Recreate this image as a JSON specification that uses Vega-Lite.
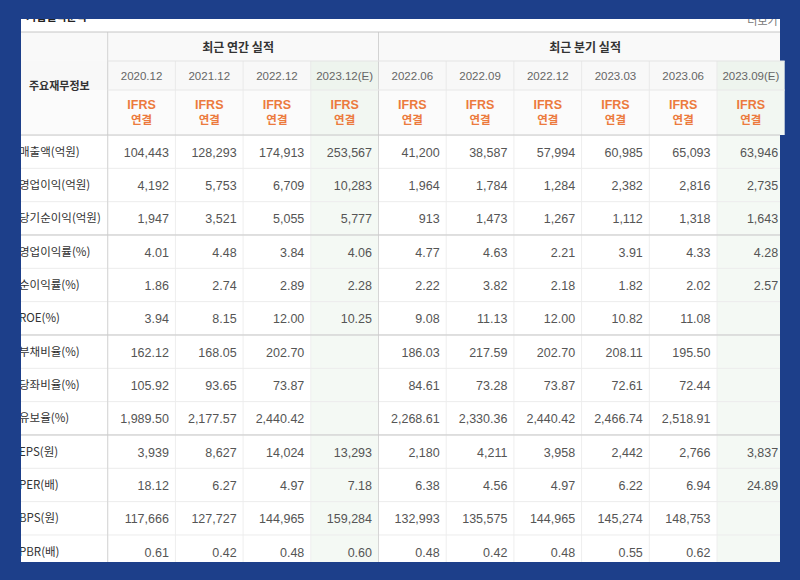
{
  "$schema": "https://vega.github.io/schema/vega-lite/v6.json",
  "background": "#1d3f8a",
  "padding": {"left": 20, "top": 19, "right": 21, "bottom": 18},
  "spacing": 0,
  "bounds": "flush",
  "config": {"view": {"stroke": null, "fill": "#ffffff"}, "text": {"font": "Noto Sans CJK KR"}},
  "resolve": {"scale": {"x": "shared"}},
  "datasets": {
    "one": [{}],
    "cols": [
      {"col": "연간 2020.12", "date": "2020.12", "group": "최근 연간 실적", "est": "실적", "std": "IFRS", "scope": "연결"},
      {"col": "연간 2021.12", "date": "2021.12", "group": "최근 연간 실적", "est": "실적", "std": "IFRS", "scope": "연결"},
      {"col": "연간 2022.12", "date": "2022.12", "group": "최근 연간 실적", "est": "실적", "std": "IFRS", "scope": "연결"},
      {"col": "연간 2023.12", "date": "2023.12(E)", "group": "최근 연간 실적", "est": "추정", "std": "IFRS", "scope": "연결"},
      {"col": "분기 2022.06", "date": "2022.06", "group": "최근 분기 실적", "est": "실적", "std": "IFRS", "scope": "연결"},
      {"col": "분기 2022.09", "date": "2022.09", "group": "최근 분기 실적", "est": "실적", "std": "IFRS", "scope": "연결"},
      {"col": "분기 2022.12", "date": "2022.12", "group": "최근 분기 실적", "est": "실적", "std": "IFRS", "scope": "연결"},
      {"col": "분기 2023.03", "date": "2023.03", "group": "최근 분기 실적", "est": "실적", "std": "IFRS", "scope": "연결"},
      {"col": "분기 2023.06", "date": "2023.06", "group": "최근 분기 실적", "est": "실적", "std": "IFRS", "scope": "연결"},
      {"col": "분기 2023.09", "date": "2023.09(E)", "group": "최근 분기 실적", "est": "추정", "std": "IFRS", "scope": "연결"}
    ],
    "metrics": [
      {"metric": "매출액(억원)"}, {"metric": "영업이익(억원)"}, {"metric": "당기순이익(억원)"},
      {"metric": "영업이익률(%)"}, {"metric": "순이익률(%)"}, {"metric": "ROE(%)"},
      {"metric": "부채비율(%)"}, {"metric": "당좌비율(%)"}, {"metric": "유보율(%)"},
      {"metric": "EPS(원)"}, {"metric": "PER(배)"}, {"metric": "BPS(원)"}, {"metric": "PBR(배)"}
    ],
    "fin": [
      {"metric": "매출액(억원)", "col": "연간 2020.12", "value": 104443},
      {"metric": "매출액(억원)", "col": "연간 2021.12", "value": 128293},
      {"metric": "매출액(억원)", "col": "연간 2022.12", "value": 174913},
      {"metric": "매출액(억원)", "col": "연간 2023.12", "value": 253567},
      {"metric": "매출액(억원)", "col": "분기 2022.06", "value": 41200},
      {"metric": "매출액(억원)", "col": "분기 2022.09", "value": 38587},
      {"metric": "매출액(억원)", "col": "분기 2022.12", "value": 57994},
      {"metric": "매출액(억원)", "col": "분기 2023.03", "value": 60985},
      {"metric": "매출액(억원)", "col": "분기 2023.06", "value": 65093},
      {"metric": "매출액(억원)", "col": "분기 2023.09", "value": 63946},
      {"metric": "영업이익(억원)", "col": "연간 2020.12", "value": 4192},
      {"metric": "영업이익(억원)", "col": "연간 2021.12", "value": 5753},
      {"metric": "영업이익(억원)", "col": "연간 2022.12", "value": 6709},
      {"metric": "영업이익(억원)", "col": "연간 2023.12", "value": 10283},
      {"metric": "영업이익(억원)", "col": "분기 2022.06", "value": 1964},
      {"metric": "영업이익(억원)", "col": "분기 2022.09", "value": 1784},
      {"metric": "영업이익(억원)", "col": "분기 2022.12", "value": 1284},
      {"metric": "영업이익(억원)", "col": "분기 2023.03", "value": 2382},
      {"metric": "영업이익(억원)", "col": "분기 2023.06", "value": 2816},
      {"metric": "영업이익(억원)", "col": "분기 2023.09", "value": 2735},
      {"metric": "당기순이익(억원)", "col": "연간 2020.12", "value": 1947},
      {"metric": "당기순이익(억원)", "col": "연간 2021.12", "value": 3521},
      {"metric": "당기순이익(억원)", "col": "연간 2022.12", "value": 5055},
      {"metric": "당기순이익(억원)", "col": "연간 2023.12", "value": 5777},
      {"metric": "당기순이익(억원)", "col": "분기 2022.06", "value": 913},
      {"metric": "당기순이익(억원)", "col": "분기 2022.09", "value": 1473},
      {"metric": "당기순이익(억원)", "col": "분기 2022.12", "value": 1267},
      {"metric": "당기순이익(억원)", "col": "분기 2023.03", "value": 1112},
      {"metric": "당기순이익(억원)", "col": "분기 2023.06", "value": 1318},
      {"metric": "당기순이익(억원)", "col": "분기 2023.09", "value": 1643},
      {"metric": "영업이익률(%)", "col": "연간 2020.12", "value": 4.01},
      {"metric": "영업이익률(%)", "col": "연간 2021.12", "value": 4.48},
      {"metric": "영업이익률(%)", "col": "연간 2022.12", "value": 3.84},
      {"metric": "영업이익률(%)", "col": "연간 2023.12", "value": 4.06},
      {"metric": "영업이익률(%)", "col": "분기 2022.06", "value": 4.77},
      {"metric": "영업이익률(%)", "col": "분기 2022.09", "value": 4.63},
      {"metric": "영업이익률(%)", "col": "분기 2022.12", "value": 2.21},
      {"metric": "영업이익률(%)", "col": "분기 2023.03", "value": 3.91},
      {"metric": "영업이익률(%)", "col": "분기 2023.06", "value": 4.33},
      {"metric": "영업이익률(%)", "col": "분기 2023.09", "value": 4.28},
      {"metric": "순이익률(%)", "col": "연간 2020.12", "value": 1.86},
      {"metric": "순이익률(%)", "col": "연간 2021.12", "value": 2.74},
      {"metric": "순이익률(%)", "col": "연간 2022.12", "value": 2.89},
      {"metric": "순이익률(%)", "col": "연간 2023.12", "value": 2.28},
      {"metric": "순이익률(%)", "col": "분기 2022.06", "value": 2.22},
      {"metric": "순이익률(%)", "col": "분기 2022.09", "value": 3.82},
      {"metric": "순이익률(%)", "col": "분기 2022.12", "value": 2.18},
      {"metric": "순이익률(%)", "col": "분기 2023.03", "value": 1.82},
      {"metric": "순이익률(%)", "col": "분기 2023.06", "value": 2.02},
      {"metric": "순이익률(%)", "col": "분기 2023.09", "value": 2.57},
      {"metric": "ROE(%)", "col": "연간 2020.12", "value": 3.94},
      {"metric": "ROE(%)", "col": "연간 2021.12", "value": 8.15},
      {"metric": "ROE(%)", "col": "연간 2022.12", "value": 12.00},
      {"metric": "ROE(%)", "col": "연간 2023.12", "value": 10.25},
      {"metric": "ROE(%)", "col": "분기 2022.06", "value": 9.08},
      {"metric": "ROE(%)", "col": "분기 2022.09", "value": 11.13},
      {"metric": "ROE(%)", "col": "분기 2022.12", "value": 12.00},
      {"metric": "ROE(%)", "col": "분기 2023.03", "value": 10.82},
      {"metric": "ROE(%)", "col": "분기 2023.06", "value": 11.08},
      {"metric": "부채비율(%)", "col": "연간 2020.12", "value": 162.12},
      {"metric": "부채비율(%)", "col": "연간 2021.12", "value": 168.05},
      {"metric": "부채비율(%)", "col": "연간 2022.12", "value": 202.70},
      {"metric": "부채비율(%)", "col": "분기 2022.06", "value": 186.03},
      {"metric": "부채비율(%)", "col": "분기 2022.09", "value": 217.59},
      {"metric": "부채비율(%)", "col": "분기 2022.12", "value": 202.70},
      {"metric": "부채비율(%)", "col": "분기 2023.03", "value": 208.11},
      {"metric": "부채비율(%)", "col": "분기 2023.06", "value": 195.50},
      {"metric": "당좌비율(%)", "col": "연간 2020.12", "value": 105.92},
      {"metric": "당좌비율(%)", "col": "연간 2021.12", "value": 93.65},
      {"metric": "당좌비율(%)", "col": "연간 2022.12", "value": 73.87},
      {"metric": "당좌비율(%)", "col": "분기 2022.06", "value": 84.61},
      {"metric": "당좌비율(%)", "col": "분기 2022.09", "value": 73.28},
      {"metric": "당좌비율(%)", "col": "분기 2022.12", "value": 73.87},
      {"metric": "당좌비율(%)", "col": "분기 2023.03", "value": 72.61},
      {"metric": "당좌비율(%)", "col": "분기 2023.06", "value": 72.44},
      {"metric": "유보율(%)", "col": "연간 2020.12", "value": 1989.50},
      {"metric": "유보율(%)", "col": "연간 2021.12", "value": 2177.57},
      {"metric": "유보율(%)", "col": "연간 2022.12", "value": 2440.42},
      {"metric": "유보율(%)", "col": "분기 2022.06", "value": 2268.61},
      {"metric": "유보율(%)", "col": "분기 2022.09", "value": 2330.36},
      {"metric": "유보율(%)", "col": "분기 2022.12", "value": 2440.42},
      {"metric": "유보율(%)", "col": "분기 2023.03", "value": 2466.74},
      {"metric": "유보율(%)", "col": "분기 2023.06", "value": 2518.91},
      {"metric": "EPS(원)", "col": "연간 2020.12", "value": 3939},
      {"metric": "EPS(원)", "col": "연간 2021.12", "value": 8627},
      {"metric": "EPS(원)", "col": "연간 2022.12", "value": 14024},
      {"metric": "EPS(원)", "col": "연간 2023.12", "value": 13293},
      {"metric": "EPS(원)", "col": "분기 2022.06", "value": 2180},
      {"metric": "EPS(원)", "col": "분기 2022.09", "value": 4211},
      {"metric": "EPS(원)", "col": "분기 2022.12", "value": 3958},
      {"metric": "EPS(원)", "col": "분기 2023.03", "value": 2442},
      {"metric": "EPS(원)", "col": "분기 2023.06", "value": 2766},
      {"metric": "EPS(원)", "col": "분기 2023.09", "value": 3837},
      {"metric": "PER(배)", "col": "연간 2020.12", "value": 18.12},
      {"metric": "PER(배)", "col": "연간 2021.12", "value": 6.27},
      {"metric": "PER(배)", "col": "연간 2022.12", "value": 4.97},
      {"metric": "PER(배)", "col": "연간 2023.12", "value": 7.18},
      {"metric": "PER(배)", "col": "분기 2022.06", "value": 6.38},
      {"metric": "PER(배)", "col": "분기 2022.09", "value": 4.56},
      {"metric": "PER(배)", "col": "분기 2022.12", "value": 4.97},
      {"metric": "PER(배)", "col": "분기 2023.03", "value": 6.22},
      {"metric": "PER(배)", "col": "분기 2023.06", "value": 6.94},
      {"metric": "PER(배)", "col": "분기 2023.09", "value": 24.89},
      {"metric": "BPS(원)", "col": "연간 2020.12", "value": 117666},
      {"metric": "BPS(원)", "col": "연간 2021.12", "value": 127727},
      {"metric": "BPS(원)", "col": "연간 2022.12", "value": 144965},
      {"metric": "BPS(원)", "col": "연간 2023.12", "value": 159284},
      {"metric": "BPS(원)", "col": "분기 2022.06", "value": 132993},
      {"metric": "BPS(원)", "col": "분기 2022.09", "value": 135575},
      {"metric": "BPS(원)", "col": "분기 2022.12", "value": 144965},
      {"metric": "BPS(원)", "col": "분기 2023.03", "value": 145274},
      {"metric": "BPS(원)", "col": "분기 2023.06", "value": 148753},
      {"metric": "PBR(배)", "col": "연간 2020.12", "value": 0.61},
      {"metric": "PBR(배)", "col": "연간 2021.12", "value": 0.42},
      {"metric": "PBR(배)", "col": "연간 2022.12", "value": 0.48},
      {"metric": "PBR(배)", "col": "연간 2023.12", "value": 0.60},
      {"metric": "PBR(배)", "col": "분기 2022.06", "value": 0.48},
      {"metric": "PBR(배)", "col": "분기 2022.09", "value": 0.42},
      {"metric": "PBR(배)", "col": "분기 2022.12", "value": 0.48},
      {"metric": "PBR(배)", "col": "분기 2023.03", "value": 0.55},
      {"metric": "PBR(배)", "col": "분기 2023.06", "value": 0.62}
    ]
  },
  "vconcat": [
    {
      "width": 759, "height": 13,
      "data": {"name": "one"},
      "layer": [
        {"mark": {"type": "text", "clip": true, "align": "left", "baseline": "alphabetic", "font": "Noto Sans CJK KR", "fontSize": 11, "fontWeight": "bold", "fill": "#222", "dx": -14, "dy": -5},
         "encoding": {"x": {"datum": "항목", "bandPosition": 0, "scale": {"domain": ["항목","연간 2020.12","연간 2021.12","연간 2022.12","연간 2023.12","분기 2022.06","분기 2022.09","분기 2022.12","분기 2023.03","분기 2023.06","분기 2023.09"], "range": [19, 763.7], "paddingInner": 0, "paddingOuter": 0}, "axis": null}, "text": {"datum": "기업실적분석"}}},
        {"mark": {"type": "text", "clip": true, "align": "right", "baseline": "alphabetic", "font": "Noto Sans CJK KR", "fontSize": 11, "fill": "#777", "dx": -7, "dy": -0.5},
         "encoding": {"x": {"datum": "분기 2023.09", "bandPosition": 1, "scale": {"domain": ["항목","연간 2020.12","연간 2021.12","연간 2022.12","연간 2023.12","분기 2022.06","분기 2022.09","분기 2022.12","분기 2023.03","분기 2023.06","분기 2023.09"], "range": [19, 763.7], "paddingInner": 0, "paddingOuter": 0}, "axis": null}, "text": {"datum": "더보기"}}}
      ]
    },
    {
      "width": 759, "height": 29,
      "view": {"fill": "#f9f9f9", "stroke": null},
      "layer": [
        {"data": {"name": "cols"}, "transform": [{"filter": {"field": "col", "oneOf": ["연간 2020.12", "분기 2022.06"]}}],
         "mark": {"type": "rule", "color": "#d3d3d3"},
         "encoding": {"x": {"field": "col", "type": "nominal", "bandPosition": 0, "scale": {"domain": ["항목","연간 2020.12","연간 2021.12","연간 2022.12","연간 2023.12","분기 2022.06","분기 2022.09","분기 2022.12","분기 2023.03","분기 2023.06","분기 2023.09"], "range": [19, 763.7], "paddingInner": 0, "paddingOuter": 0}, "axis": null}}},
        {"data": {"name": "one"},
         "mark": {"type": "rule", "color": "#c6c6c6"},
         "encoding": {"y": {"datum": "g", "bandPosition": 0, "axis": null}}},
        {"data": {"name": "one"},
         "mark": {"type": "text", "font": "Noto Sans CJK KR", "fontSize": 12, "fontWeight": "bold", "fill": "#333", "dx": -5, "dy": 1},
         "encoding": {"x": {"datum": "연간 2021.12", "bandPosition": 1, "scale": {"domain": ["항목","연간 2020.12","연간 2021.12","연간 2022.12","연간 2023.12","분기 2022.06","분기 2022.09","분기 2022.12","분기 2023.03","분기 2023.06","분기 2023.09"], "range": [19, 763.7], "paddingInner": 0, "paddingOuter": 0}, "axis": null}, "text": {"datum": "최근 연간 실적"}}},
        {"data": {"name": "one"},
         "mark": {"type": "text", "font": "Noto Sans CJK KR", "fontSize": 12, "fontWeight": "bold", "fill": "#333", "dx": 3.5, "dy": 1},
         "encoding": {"x": {"datum": "분기 2022.12", "bandPosition": 1, "scale": {"domain": ["항목","연간 2020.12","연간 2021.12","연간 2022.12","연간 2023.12","분기 2022.06","분기 2022.09","분기 2022.12","분기 2023.03","분기 2023.06","분기 2023.09"], "range": [19, 763.7], "paddingInner": 0, "paddingOuter": 0}, "axis": null}, "text": {"datum": "최근 분기 실적"}}}
      ]
    },
    {
      "width": 759, "height": 29,
      "view": {"fill": "#f8f8f8", "stroke": null},
      "layer": [
        {"data": {"name": "cols"}, "transform": [{"filter": "datum.est === '추정'"}],
         "mark": {"type": "rect", "fill": "#eef4ee"},
         "encoding": {"x": {"field": "col", "type": "nominal", "scale": {"domain": ["항목","연간 2020.12","연간 2021.12","연간 2022.12","연간 2023.12","분기 2022.06","분기 2022.09","분기 2022.12","분기 2023.03","분기 2023.06","분기 2023.09"], "range": [19, 763.7], "paddingInner": 0, "paddingOuter": 0}, "axis": null}}},
        {"data": {"name": "cols"},
         "mark": {"type": "rule", "color": "#e9e9e9"},
         "encoding": {"x": {"field": "col", "type": "nominal", "bandPosition": 0, "scale": {"domain": ["항목","연간 2020.12","연간 2021.12","연간 2022.12","연간 2023.12","분기 2022.06","분기 2022.09","분기 2022.12","분기 2023.03","분기 2023.06","분기 2023.09"], "range": [19, 763.7], "paddingInner": 0, "paddingOuter": 0}, "axis": null}}},
        {"data": {"name": "cols"}, "transform": [{"filter": {"field": "col", "oneOf": ["연간 2020.12", "분기 2022.06"]}}],
         "mark": {"type": "rule", "color": "#d3d3d3"},
         "encoding": {"x": {"field": "col", "type": "nominal", "bandPosition": 0, "scale": {"domain": ["항목","연간 2020.12","연간 2021.12","연간 2022.12","연간 2023.12","분기 2022.06","분기 2022.09","분기 2022.12","분기 2023.03","분기 2023.06","분기 2023.09"], "range": [19, 763.7], "paddingInner": 0, "paddingOuter": 0}, "axis": null}}},
        {"data": {"name": "one"},
         "mark": {"type": "rule", "color": "#e3e3e3"},
         "encoding": {"x": {"datum": "연간 2020.12", "bandPosition": 0, "scale": {"domain": ["항목","연간 2020.12","연간 2021.12","연간 2022.12","연간 2023.12","분기 2022.06","분기 2022.09","분기 2022.12","분기 2023.03","분기 2023.06","분기 2023.09"], "range": [19, 763.7], "paddingInner": 0, "paddingOuter": 0}, "axis": null},
                      "x2": {"datum": "분기 2023.09", "bandPosition": 1},
                      "y": {"datum": "d", "bandPosition": 0, "axis": null}}},
        {"data": {"name": "cols"},
         "mark": {"type": "text", "font": "Liberation Sans", "fontSize": 11.5, "fill": "#666", "dy": 1.5},
         "encoding": {"x": {"field": "col", "type": "nominal", "scale": {"domain": ["항목","연간 2020.12","연간 2021.12","연간 2022.12","연간 2023.12","분기 2022.06","분기 2022.09","분기 2022.12","분기 2023.03","분기 2023.06","분기 2023.09"], "range": [19, 763.7], "paddingInner": 0, "paddingOuter": 0}, "axis": null}, "text": {"field": "date"}}}
      ]
    },
    {
      "width": 759, "height": 45,
      "view": {"fill": "#fbfbfb", "stroke": null},
      "layer": [
        {"data": {"name": "cols"}, "transform": [{"filter": "datum.est === '추정'"}],
         "mark": {"type": "rect", "fill": "#f2f7f2"},
         "encoding": {"x": {"field": "col", "type": "nominal", "scale": {"domain": ["항목","연간 2020.12","연간 2021.12","연간 2022.12","연간 2023.12","분기 2022.06","분기 2022.09","분기 2022.12","분기 2023.03","분기 2023.06","분기 2023.09"], "range": [19, 763.7], "paddingInner": 0, "paddingOuter": 0}, "axis": null}}},
        {"data": {"name": "cols"},
         "mark": {"type": "rule", "color": "#ececec"},
         "encoding": {"x": {"field": "col", "type": "nominal", "bandPosition": 0, "scale": {"domain": ["항목","연간 2020.12","연간 2021.12","연간 2022.12","연간 2023.12","분기 2022.06","분기 2022.09","분기 2022.12","분기 2023.03","분기 2023.06","분기 2023.09"], "range": [19, 763.7], "paddingInner": 0, "paddingOuter": 0}, "axis": null}}},
        {"data": {"name": "cols"}, "transform": [{"filter": {"field": "col", "oneOf": ["연간 2020.12", "분기 2022.06"]}}],
         "mark": {"type": "rule", "color": "#d3d3d3"},
         "encoding": {"x": {"field": "col", "type": "nominal", "bandPosition": 0, "scale": {"domain": ["항목","연간 2020.12","연간 2021.12","연간 2022.12","연간 2023.12","분기 2022.06","분기 2022.09","분기 2022.12","분기 2023.03","분기 2023.06","분기 2023.09"], "range": [19, 763.7], "paddingInner": 0, "paddingOuter": 0}, "axis": null}}},
        {"data": {"name": "one"},
         "mark": {"type": "rule", "color": "#e8e8e8"},
         "encoding": {"x": {"datum": "연간 2020.12", "bandPosition": 0, "scale": {"domain": ["항목","연간 2020.12","연간 2021.12","연간 2022.12","연간 2023.12","분기 2022.06","분기 2022.09","분기 2022.12","분기 2023.03","분기 2023.06","분기 2023.09"], "range": [19, 763.7], "paddingInner": 0, "paddingOuter": 0}, "axis": null},
                      "x2": {"datum": "분기 2023.09", "bandPosition": 1},
                      "y": {"datum": "i", "bandPosition": 0, "axis": null}}},
        {"data": {"name": "cols"},
         "mark": {"type": "text", "font": "Liberation Sans", "fontSize": 12.5, "fontWeight": "bold", "fill": "#ec7a3d", "dy": -7.5},
         "encoding": {"x": {"field": "col", "type": "nominal", "scale": {"domain": ["항목","연간 2020.12","연간 2021.12","연간 2022.12","연간 2023.12","분기 2022.06","분기 2022.09","분기 2022.12","분기 2023.03","분기 2023.06","분기 2023.09"], "range": [19, 763.7], "paddingInner": 0, "paddingOuter": 0}, "axis": null}, "text": {"field": "std"}}},
        {"data": {"name": "cols"},
         "mark": {"type": "text", "font": "Noto Sans CJK KR", "fontSize": 11.5, "fontWeight": "bold", "fill": "#ec7a3d", "dy": 8},
         "encoding": {"x": {"field": "col", "type": "nominal", "scale": {"domain": ["항목","연간 2020.12","연간 2021.12","연간 2022.12","연간 2023.12","분기 2022.06","분기 2022.09","분기 2022.12","분기 2023.03","분기 2023.06","분기 2023.09"], "range": [19, 763.7], "paddingInner": 0, "paddingOuter": 0}, "axis": null}, "text": {"field": "scope"}}},
        {"data": {"name": "one"},
         "mark": {"type": "text", "font": "Noto Sans CJK KR", "fontSize": 11, "fontWeight": "bold", "fill": "#333", "dx": -14.5, "dy": -26},
         "encoding": {"x": {"datum": "항목", "scale": {"domain": ["항목","연간 2020.12","연간 2021.12","연간 2022.12","연간 2023.12","분기 2022.06","분기 2022.09","분기 2022.12","분기 2023.03","분기 2023.06","분기 2023.09"], "range": [19, 763.7], "paddingInner": 0, "paddingOuter": 0}, "axis": null}, "text": {"datum": "주요재무정보"}}}
      ]
    },
    {
      "width": 759, "height": 427,
      "layer": [
        {"data": {"name": "cols"}, "transform": [{"filter": "datum.est === '추정'"}],
         "mark": {"type": "rect", "fill": "#f4f9f4", "clip": true},
         "encoding": {"x": {"field": "col", "type": "nominal", "scale": {"domain": ["항목","연간 2020.12","연간 2021.12","연간 2022.12","연간 2023.12","분기 2022.06","분기 2022.09","분기 2022.12","분기 2023.03","분기 2023.06","분기 2023.09"], "range": [19, 763.7], "paddingInner": 0, "paddingOuter": 0}, "axis": null}}},
        {"data": {"name": "cols"},
         "mark": {"type": "rule", "color": "#eeeeee"},
         "encoding": {"x": {"field": "col", "type": "nominal", "bandPosition": 0, "scale": {"domain": ["항목","연간 2020.12","연간 2021.12","연간 2022.12","연간 2023.12","분기 2022.06","분기 2022.09","분기 2022.12","분기 2023.03","분기 2023.06","분기 2023.09"], "range": [19, 763.7], "paddingInner": 0, "paddingOuter": 0}, "axis": null}}},
        {"data": {"name": "metrics"},
         "mark": {"type": "rule", "color": "#ececec", "clip": true},
         "encoding": {"y": {"field": "metric", "type": "nominal", "bandPosition": 0, "scale": {"domain": ["매출액(억원)","영업이익(억원)","당기순이익(억원)","영업이익률(%)","순이익률(%)","ROE(%)","부채비율(%)","당좌비율(%)","유보율(%)","EPS(원)","PER(배)","BPS(원)","PBR(배)"], "range": [0, 433.3], "paddingInner": 0, "paddingOuter": 0}, "axis": null}}},
        {"data": {"name": "cols"}, "transform": [{"filter": {"field": "col", "oneOf": ["연간 2020.12", "분기 2022.06"]}}],
         "mark": {"type": "rule", "color": "#d6d6d6"},
         "encoding": {"x": {"field": "col", "type": "nominal", "bandPosition": 0, "scale": {"domain": ["항목","연간 2020.12","연간 2021.12","연간 2022.12","연간 2023.12","분기 2022.06","분기 2022.09","분기 2022.12","분기 2023.03","분기 2023.06","분기 2023.09"], "range": [19, 763.7], "paddingInner": 0, "paddingOuter": 0}, "axis": null}}},
        {"data": {"name": "metrics"}, "transform": [{"filter": {"field": "metric", "oneOf": ["매출액(억원)", "영업이익률(%)", "부채비율(%)", "EPS(원)"]}}],
         "mark": {"type": "rule", "color": "#c9c9c9"},
         "encoding": {"y": {"field": "metric", "type": "nominal", "bandPosition": 0, "scale": {"domain": ["매출액(억원)","영업이익(억원)","당기순이익(억원)","영업이익률(%)","순이익률(%)","ROE(%)","부채비율(%)","당좌비율(%)","유보율(%)","EPS(원)","PER(배)","BPS(원)","PBR(배)"], "range": [0, 433.3], "paddingInner": 0, "paddingOuter": 0}, "axis": null}}},
        {"data": {"name": "metrics"},
         "mark": {"type": "text", "clip": true, "align": "left", "dx": -21, "dy": 1, "font": "Noto Sans CJK KR", "fontSize": 11.5, "fill": "#333"},
         "encoding": {"x": {"datum": "항목", "bandPosition": 0, "scale": {"domain": ["항목","연간 2020.12","연간 2021.12","연간 2022.12","연간 2023.12","분기 2022.06","분기 2022.09","분기 2022.12","분기 2023.03","분기 2023.06","분기 2023.09"], "range": [19, 763.7], "paddingInner": 0, "paddingOuter": 0}, "axis": null},
                      "y": {"field": "metric", "type": "nominal", "scale": {"domain": ["매출액(억원)","영업이익(억원)","당기순이익(억원)","영업이익률(%)","순이익률(%)","ROE(%)","부채비율(%)","당좌비율(%)","유보율(%)","EPS(원)","PER(배)","BPS(원)","PBR(배)"], "range": [0, 433.3], "paddingInner": 0, "paddingOuter": 0}, "axis": null},
                      "text": {"field": "metric"}}},
        {"data": {"name": "fin"}, "transform": [{"filter": {"field": "metric", "oneOf": ["매출액(억원)", "영업이익(억원)", "당기순이익(억원)", "EPS(원)", "BPS(원)"]}}],
         "mark": {"type": "text", "clip": true, "align": "right", "dx": -6.5, "dy": 1, "font": "Liberation Sans", "fontSize": 12.5, "fill": "#555"},
         "encoding": {"x": {"field": "col", "type": "nominal", "bandPosition": 1, "scale": {"domain": ["항목","연간 2020.12","연간 2021.12","연간 2022.12","연간 2023.12","분기 2022.06","분기 2022.09","분기 2022.12","분기 2023.03","분기 2023.06","분기 2023.09"], "range": [19, 763.7], "paddingInner": 0, "paddingOuter": 0}, "axis": null},
                      "y": {"field": "metric", "type": "nominal", "scale": {"domain": ["매출액(억원)","영업이익(억원)","당기순이익(억원)","영업이익률(%)","순이익률(%)","ROE(%)","부채비율(%)","당좌비율(%)","유보율(%)","EPS(원)","PER(배)","BPS(원)","PBR(배)"], "range": [0, 433.3], "paddingInner": 0, "paddingOuter": 0}, "axis": null},
                      "text": {"field": "value", "type": "quantitative", "format": ",d"}}},
        {"data": {"name": "fin"}, "transform": [{"filter": {"not": {"field": "metric", "oneOf": ["매출액(억원)", "영업이익(억원)", "당기순이익(억원)", "EPS(원)", "BPS(원)"]}}}],
         "mark": {"type": "text", "clip": true, "align": "right", "dx": -6.5, "dy": 1, "font": "Liberation Sans", "fontSize": 12.5, "fill": "#555"},
         "encoding": {"x": {"field": "col", "type": "nominal", "bandPosition": 1, "scale": {"domain": ["항목","연간 2020.12","연간 2021.12","연간 2022.12","연간 2023.12","분기 2022.06","분기 2022.09","분기 2022.12","분기 2023.03","분기 2023.06","분기 2023.09"], "range": [19, 763.7], "paddingInner": 0, "paddingOuter": 0}, "axis": null},
                      "y": {"field": "metric", "type": "nominal", "scale": {"domain": ["매출액(억원)","영업이익(억원)","당기순이익(억원)","영업이익률(%)","순이익률(%)","ROE(%)","부채비율(%)","당좌비율(%)","유보율(%)","EPS(원)","PER(배)","BPS(원)","PBR(배)"], "range": [0, 433.3], "paddingInner": 0, "paddingOuter": 0}, "axis": null},
                      "text": {"field": "value", "type": "quantitative", "format": ",.2f"}}}
      ]
    }
  ]
}
